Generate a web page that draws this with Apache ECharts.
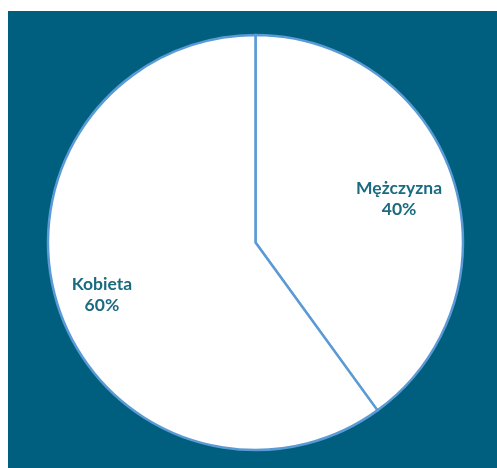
<!DOCTYPE html>
<html>
<head>
<meta charset="utf-8">
<script src="https://cdn.jsdelivr.net/npm/echarts@6/dist/echarts.min.js"></script>
<style>
html,body{margin:0;padding:0;background:#ffffff;}
#chart{position:absolute;left:8px;top:11px;width:489px;height:457px;}
</style>
</head>
<body>
<div id="chart"></div>
<script>
const categories = ['Mężczyzna', 'Kobieta'];
const values = [40, 60];

const data = categories.map((c, i) => ({ name: c, value: values[i] }));
const chart = echarts.init(document.getElementById('chart'));
const center = [247.5, 231.5];
chart.setOption({
  backgroundColor: '#005f7e',
  animation: false,
  series: [
    {
      type: 'pie',
      center: center,
      radius: [0, 207.5],
      startAngle: 90,
      clockwise: true,
      silent: true,
      data: data,
      itemStyle: { color: '#ffffff', borderColor: '#5b9bd5', borderWidth: 2.5 },
      label: { show: false },
      labelLine: { show: false }
    },
    {
      type: 'pie',
      center: center,
      radius: [99, 207.5],
      startAngle: 90,
      clockwise: true,
      silent: true,
      data: data,
      itemStyle: { color: 'rgba(0,0,0,0)', borderWidth: 0 },
      label: {
        show: true,
        position: 'inside',
        formatter: '{b}\n{d}%',
        offset: [-5, 4.5],
        color: '#1b6b80',
        fontFamily: 'Lato',
        fontWeight: 'bold',
        fontSize: 17.5,
        lineHeight: 21
      },
      labelLine: { show: false }
    }
  ]
});
</script>
</body>
</html>
